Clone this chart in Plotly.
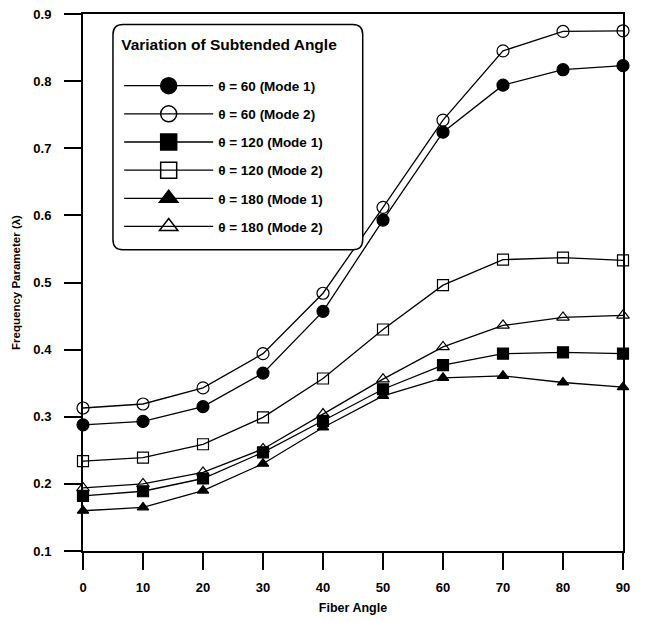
import plotly.graph_objects as go

fiber_angle = [0, 10, 20, 30, 40, 50, 60, 70, 80, 90]

theta60_mode1 = [0.288, 0.293, 0.315, 0.365, 0.457, 0.593, 0.724, 0.794, 0.817, 0.823]
theta60_mode2 = [0.313, 0.319, 0.343, 0.394, 0.484, 0.612, 0.742, 0.845, 0.874, 0.875]
theta120_mode1 = [0.182, 0.189, 0.208, 0.247, 0.294, 0.341, 0.377, 0.394, 0.396, 0.394]
theta120_mode2 = [0.234, 0.239, 0.259, 0.299, 0.357, 0.430, 0.496, 0.534, 0.537, 0.533]
theta180_mode1 = [0.160, 0.165, 0.190, 0.230, 0.284, 0.331, 0.358, 0.361, 0.351, 0.344]
theta180_mode2 = [0.194, 0.200, 0.217, 0.252, 0.304, 0.356, 0.404, 0.436, 0.448, 0.451]

series_names = ["θ = 60 (Mode 1)", "θ = 60 (Mode 2)", "θ = 120 (Mode 1)",
                "θ = 120 (Mode 2)", "θ = 180 (Mode 1)", "θ = 180 (Mode 2)"]
series_values = [theta60_mode1, theta60_mode2, theta120_mode1,
                 theta120_mode2, theta180_mode1, theta180_mode2]
symbols = ["circle", "circle-open", "square", "square-open", "triangle-up", "triangle-up-open"]
plot_sizes = [12, 12, 11, 11, 10, 11]

x_ticks = [0, 10, 20, 30, 40, 50, 60, 70, 80, 90]
y_ticks = [0.1, 0.2, 0.3, 0.4, 0.5, 0.6, 0.7, 0.8, 0.9]

FONT = "Liberation Sans"
fig = go.Figure()

for name, vals, sym, sz in zip(series_names, series_values, symbols, plot_sizes):
    fig.add_trace(go.Scatter(
        x=fiber_angle, y=vals, mode="lines+markers", name=name, showlegend=False,
        line=dict(color="black", width=1.3),
        marker=dict(symbol=sym, size=sz, color="black",
                    line=dict(color="black", width=1.2)),
        cliponaxis=False,
    ))

# legend-only entries (no data) with large glyphs
for i, (name, sym) in enumerate(zip(series_names, symbols)):
    fig.add_trace(go.Scatter(
        x=[None], y=[None], mode="lines+markers", name=name, showlegend=True,
        legendgroup=f"g{i}",
        line=dict(color="black", width=1.3),
        marker=dict(symbol=sym, size=30, color="black",
                    line=dict(color="black", width=1.5)),
    ))

# rounded legend frame
x0, x1 = 0.0555, 0.518
y0, y1 = 0.5608, 0.9804
rx, ry = 0.0185, 0.0187
path = (f"M {x0+rx},{y1} L {x1-rx},{y1} Q {x1},{y1} {x1},{y1-ry} "
        f"L {x1},{y0+ry} Q {x1},{y0} {x1-rx},{y0} L {x0+rx},{y0} "
        f"Q {x0},{y0} {x0},{y0+ry} L {x0},{y1-ry} Q {x0},{y1} {x0+rx},{y1} Z")
fig.add_shape(type="path", path=path, xref="paper", yref="paper",
              line=dict(color="black", width=1.5), fillcolor="white", layer="above")

fig.update_layout(
    width=649, height=622,
    margin=dict(l=83, r=26, t=14, b=71),
    paper_bgcolor="white", plot_bgcolor="white",
    font=dict(family=FONT, color="black", size=12),
    legend=dict(
        x=0.067, y=0.970, xanchor="left", yanchor="top",
        bgcolor="rgba(0,0,0,0)", borderwidth=0,
        title=dict(text="Variation of Subtended Angle<br><span style='font-size:22px'> </span>",
                   font=dict(family=FONT, size=15.5, weight="bold")),
        font=dict(family=FONT, size=13.5, weight="bold"),
        itemwidth=89, tracegroupgap=7.6, traceorder="grouped",
    ),
    xaxis=dict(
        range=[0, 90], tickvals=x_ticks, ticktext=[str(v) for v in x_ticks],
        automargin=False,
        showgrid=False, zeroline=False, showline=True, linecolor="black", linewidth=2,
        mirror=True, ticks="outside", ticklen=17, tickwidth=1.5, tickcolor="black",
        ticklabelstandoff=6,
        tickfont=dict(family=FONT, size=13, weight="bold"),
        title=dict(text="Fiber Angle", standoff=10,
                   font=dict(family=FONT, size=12.5, weight="bold")),
    ),
    yaxis=dict(
        range=[0.1, 0.9], tickvals=y_ticks, ticktext=[f"{v:.1f}" for v in y_ticks],
        automargin=False,
        showgrid=False, zeroline=False, showline=True, linecolor="black", linewidth=2,
        mirror=True, ticks="outside", ticklen=17, tickwidth=1.5, tickcolor="black",
        ticklabelstandoff=10,
        tickfont=dict(family=FONT, size=13, weight="bold"),
        title=dict(text="Frequency Parameter (λ)", standoff=10,
                   font=dict(family=FONT, size=11.5, weight="bold")),
    ),
)

fig.write_html("out.html")
